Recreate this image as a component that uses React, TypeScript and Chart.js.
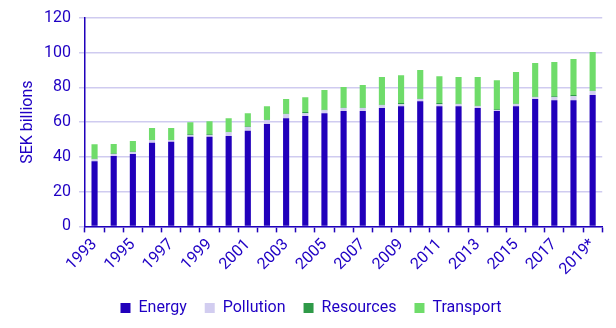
import React, { useEffect, useRef } from "react";
import { Chart, registerables } from "chart.js";

Chart.register(...registerables);

const years = ["1993","1994","1995","1996","1997","1998","1999","2000","2001","2002","2003","2004","2005","2006","2007","2008","2009","2010","2011","2012","2013","2014","2015","2016","2017","2018","2019*"];
const energy = [37.5, 40.6, 41.7, 48.1, 48.7, 51.6, 51.6, 52.1, 55.0, 59.0, 62.3, 63.5, 65.2, 66.4, 66.4, 68.1, 69.2, 72.1, 69.2, 69.2, 68.1, 66.4, 69.2, 73.3, 72.7, 72.7, 75.6];
const pollution = [1.2, 1.1, 1.2, 1.5, 0.9, 0.9, 0.9, 2.1, 2.3, 2.2, 2.3, 1.7, 1.7, 1.7, 1.7, 1.7, 1.2, 1.2, 1.2, 1.2, 1.1, 0.6, 1.2, 1.1, 1.7, 2.3, 2.3];
const resources = [0.2, 0.2, 0.2, 0.2, 0.2, 0.6, 0.6, 0.2, 0.2, 0.2, 0.2, 0.6, 0.2, 0.2, 0.2, 0.2, 0.6, 0.2, 0.6, 0.2, 0.2, 0.5, 0.2, 0.2, 0.6, 0.6, 0.2];
const transport = [8.4, 5.5, 6.1, 6.8, 6.8, 6.9, 7.5, 7.9, 7.7, 7.8, 8.5, 8.6, 11.4, 11.9, 13.1, 16.0, 16.1, 16.5, 15.5, 15.4, 16.6, 16.7, 18.3, 19.5, 19.6, 20.8, 22.3];
const yTicks = [0, 20, 40, 60, 80, 100, 120];

const TEXT = "#1f00c4";
const AXIS = "#1f00bb";
const GRID = "#cfcbf0";

export default function App() {
  const ref = useRef<HTMLCanvasElement>(null);
  useEffect(() => {
    if (!ref.current) return;
    const font = { family: "Roboto", size: 16, lineHeight: 1 };
    const mk = (label: string, data: number[], color: string) => ({
      label, data, backgroundColor: color, borderWidth: 0,
      barPercentage: 0.4, categoryPercentage: 0.8,
    });
    const chart = new Chart(ref.current, {
      type: "bar",
      data: {
        labels: years,
        datasets: [
          mk("Energy", energy, "#2100bb"),
          mk("Pollution", pollution, "#d2cdf0"),
          mk("Resources", resources, "#2f9a48"),
          mk("Transport", transport, "#6fdc6a"),
        ],
      },
      options: {
        animation: false,
        responsive: false,
        layout: { padding: { top: 10, right: 2, left: 8, bottom: -6 } },
        plugins: {
          tooltip: { enabled: false },
          legend: {
            position: "bottom",
            labels: {
              color: TEXT, font, usePointStyle: true, pointStyle: "rect",
              boxWidth: 10, boxHeight: 10, padding: 18,
            },
          },
        },
        scales: {
          x: {
            stacked: true,
            offset: true,
            grid: { display: true, drawOnChartArea: false, offset: true, color: AXIS, tickLength: 6, tickWidth: 1.5 },
            border: { display: true, color: AXIS, width: 1.5 },
            ticks: {
              color: TEXT, font, autoSkip: false, minRotation: 45, maxRotation: 45, padding: 4,
              callback: (_v: any, i: number) => (i % 2 === 0 ? years[i] : ""),
            },
          },
          y: {
            stacked: true,
            min: 0, max: 120,
            afterBuildTicks: (s: any) => { s.ticks = yTicks.map((v) => ({ value: v })); },
            afterFit: (s: any) => { s.paddingTop = 0; },
            grid: { color: GRID, lineWidth: 1.5, tickLength: 6 },
            border: { display: true, color: AXIS, width: 1.5 },
            ticks: { color: TEXT, font, padding: 8 },
            title: { display: true, text: "SEK billions", color: TEXT, font, padding: { bottom: 0 } },
          },
        },
      },
    });
    return () => chart.destroy();
  }, []);
  return (
    <div style={{ width: 600, height: 312 }}>
      <canvas ref={ref} width={600} height={312} />
    </div>
  );
}
